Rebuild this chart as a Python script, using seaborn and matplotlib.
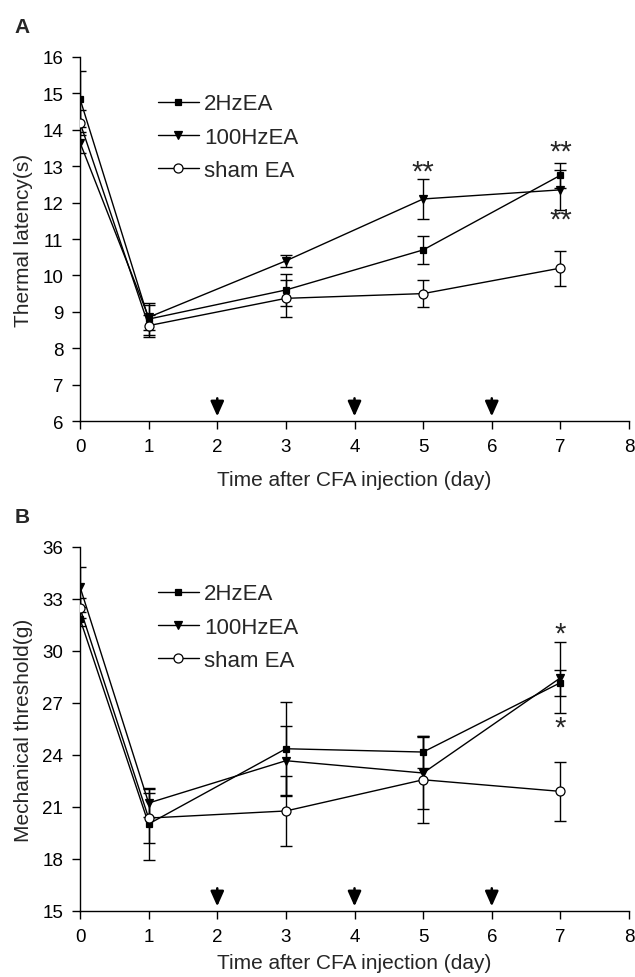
import numpy as np
import pandas as pd
import matplotlib
matplotlib.use("Agg")
import matplotlib.pyplot as plt
import seaborn as sns

# data
days = [0, 1, 3, 5, 7]
groups = ["2HzEA", "100HzEA", "sham EA"]

thermal_2hz = [14.85, 8.80, 9.60, 10.70, 12.75]
thermal_100hz = [13.65, 8.85, 10.40, 12.10, 12.35]
thermal_sham = [14.20, 8.62, 9.37, 9.50, 10.20]
thermal_2hz_err = [0.77, 0.45, 0.45, 0.38, 0.35]
thermal_100hz_err = [0.30, 0.35, 0.17, 0.56, 0.55]
thermal_sham_err = [0.35, 0.30, 0.50, 0.36, 0.48]

mech_2hz = [31.85, 20.02, 24.36, 24.17, 28.17]
mech_100hz = [33.70, 21.23, 23.67, 22.96, 28.45]
mech_sham = [32.48, 20.36, 20.77, 22.57, 21.90]
mech_2hz_err = [0.40, 2.05, 2.70, 0.90, 0.75]
mech_100hz_err = [1.15, 0.80, 2.00, 2.05, 2.05]
mech_sham_err = [0.60, 1.45, 2.00, 2.50, 1.70]

ea_days = [2, 4, 6]  # arrows: EA sessions

# significance marks: (day, y, text)
thermal_stars = [(5, 12.85, "**"), (7, 13.40, "**"), (7, 11.53, "**")]
mech_stars = [(7, 31.0, "*"), (7, 25.6, "*")]

sns.set_style("ticks")
plt.rcParams["font.family"] = ["Liberation Sans", "DejaVu Sans"]

fig = plt.figure(figsize=(6.35, 9.78), dpi=100)
axA = fig.add_axes([0.126, 0.5685, 0.8646, 0.3722])
axB = fig.add_axes([0.126, 0.0675, 0.8646, 0.3722])

styles = {
    "2HzEA": dict(marker="s", markersize=5, markerfacecolor="black"),
    "100HzEA": dict(marker="v", markersize=5.5, markerfacecolor="black"),
    "sham EA": dict(marker="o", markersize=6.5, markerfacecolor="white"),
}


def draw_panel(ax, series, errs, ylim, yticks, ylabel, stars, letter, xpad):
    for g, vals, err in zip(groups, series, errs):
        ax.errorbar(days, vals, yerr=err, fmt="none", ecolor="black",
                    elinewidth=1, capsize=4, capthick=1, zorder=2)
        sns.lineplot(x=days, y=vals, ax=ax, color="black", linewidth=1,
                     markeredgecolor="black", markeredgewidth=0.9,
                     label=g, zorder=3, **styles[g])
    ax.set_xlim(0, 8)
    ax.set_ylim(*ylim)
    ax.set_xticks(range(0, 9))
    ax.set_yticks(yticks)
    ax.tick_params(labelsize=13.5, direction="out", length=6, width=1,
                   colors="black", pad=6)
    for s in ["left", "bottom"]:
        ax.spines[s].set_linewidth(1)
        ax.spines[s].set_color("black")
    sns.despine(ax=ax)
    ax.set_xlabel("Time after CFA injection (day)", fontsize=15, labelpad=xpad)
    ax.set_ylabel(ylabel, fontsize=15, labelpad=7)
    span = ylim[1] - ylim[0]
    for d in ea_days:
        ax.annotate("", xy=(d, ylim[0] + 0.005 * span), xytext=(d, ylim[0] + 0.07 * span),
                    arrowprops=dict(arrowstyle="-|>,head_length=0.9,head_width=0.4",
                                    color="black", lw=1.8), annotation_clip=False)
    for d, y, t in stars:
        ax.text(d, y, t, ha="center", va="center", fontsize=21)
    ax.legend(loc="upper left", bbox_to_anchor=(0.105, 0.955), frameon=False,
              fontsize=16, handlelength=1.85, handletextpad=0.25, labelspacing=0.55)
    ax.text(-0.12, 1.085, letter, transform=ax.transAxes, fontsize=15,
            fontweight="bold", va="center", ha="left")


draw_panel(axA, [thermal_2hz, thermal_100hz, thermal_sham],
           [thermal_2hz_err, thermal_100hz_err, thermal_sham_err],
           (6, 16), range(6, 17), "Thermal latency(s)", thermal_stars, "A", 11)
draw_panel(axB, [mech_2hz, mech_100hz, mech_sham],
           [mech_2hz_err, mech_100hz_err, mech_sham_err],
           (15, 36), range(15, 37, 3), "Mechanical threshold(g)", mech_stars, "B", 6)

fig.savefig("out.png", dpi=100, facecolor="white")
